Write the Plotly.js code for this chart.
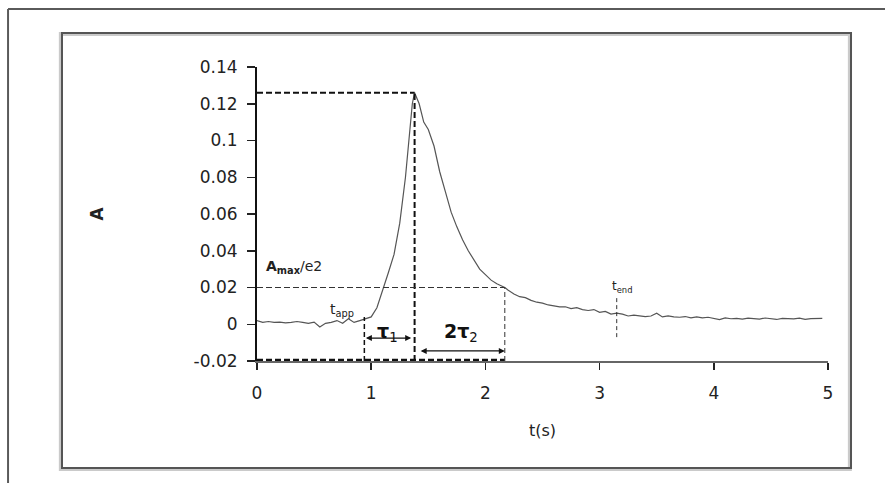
<!DOCTYPE html>
<html>
<head>
<meta charset="utf-8">
<script src="https://cdn.plot.ly/plotly-3.0.1.min.js"></script>
<style>html,body{margin:0;padding:0;background:#fff;}#chart{width:885px;height:483px;}</style>
</head>
<body>
<div id="chart"></div>
<script>
// Time axis (s)
const tValues = [0,0.05,0.1,0.15,0.2,0.25,0.3,0.35,0.4,0.45,0.5,0.55,0.6,0.65,0.7,0.75,0.8,0.85,0.9,0.95,
  1.0,1.05,1.1,1.15,1.2,1.25,1.3,1.33,1.36,1.38,1.42,1.46,1.5,1.55,1.6,1.65,1.7,1.75,1.8,1.85,1.9,1.95,
  2.0,2.05,2.1,2.17,2.2,2.25,2.3,2.35,2.4,2.45,2.5,2.55,2.6,2.65,2.7,2.75,2.8,2.85,2.9,2.95,
  3.0,3.05,3.1,3.15,3.2,3.25,3.3,3.35,3.4,3.45,3.5,3.55,3.6,3.65,3.7,3.75,3.8,3.85,3.9,3.95,
  4.0,4.05,4.1,4.15,4.2,4.25,4.3,4.35,4.4,4.45,4.5,4.55,4.6,4.65,4.7,4.75,4.8,4.85,4.9,4.95];
// Absorbance A
const aValues = [0.002,0.001,0.0015,0.001,0.0012,0.0008,0.001,0.0015,0.001,0.0005,0.0012,-0.0015,0.0005,0.001,0.002,0.0005,0.003,0.001,0.002,0.003,
  0.004,0.009,0.018,0.028,0.038,0.055,0.08,0.102,0.12,0.126,0.12,0.11,0.106,0.097,0.083,0.072,0.061,0.053,0.046,0.04,0.035,0.03,
  0.027,0.024,0.022,0.02,0.0185,0.0165,0.015,0.0145,0.013,0.012,0.0115,0.0105,0.01,0.0095,0.0095,0.0085,0.009,0.008,0.0075,0.008,
  0.0065,0.007,0.0055,0.006,0.0055,0.0045,0.005,0.0048,0.0042,0.0045,0.006,0.004,0.0045,0.004,0.0038,0.0042,0.0035,0.004,0.0035,0.0038,
  0.003,0.0025,0.0035,0.003,0.0032,0.0028,0.0033,0.003,0.0028,0.0034,0.003,0.0026,0.0032,0.003,0.0029,0.0033,0.0027,0.0031,0.003,0.0032];

// Read-off characteristic points
const markerNames = ['tapp', 'tpeak', 't2tau2', 'tend'];
const markerTimes = [0.94, 1.38, 2.17, 3.15];
const thresholdLevel = [0.02]; // Amax/e2 level
const tendRange = [-0.007, 0.015];
const arrowLevels = [-0.0075, -0.0145];

// Tick labels
const yTickVals = [-0.02, 0, 0.02, 0.04, 0.06, 0.08, 0.1, 0.12, 0.14];
const yTickText = ['-0.02', '0', '0.02', '0.04', '0.06', '0.08', '0.1', '0.12', '0.14'];
const xTickVals = [0, 1, 2, 3, 4, 5];
const xTickText = ['0', '1', '2', '3', '4', '5'];

const FONT = 'DejaVu Sans, Arial, sans-serif';
const yMin = -0.02;
const aMax = Math.max(...aValues);
const tApp = markerTimes[0], tPeak = markerTimes[1], t2 = markerTimes[2], tEnd = markerTimes[3];
const lvl = thresholdLevel[0];

const trace = {
  x: tValues, y: aValues, type: 'scatter', mode: 'lines',
  line: {color: '#555', width: 1.2}, hoverinfo: 'skip', showlegend: false
};

function seg(x0, y0, x1, y1, w, dash, color) {
  return {type: 'line', xref: 'x', yref: 'y', x0: x0, y0: y0, x1: x1, y1: y1,
    line: {color: color || '#111', width: w, dash: dash}};
}
function frame(x0, y0, x1, y1, w, color) {
  return {type: 'rect', xref: 'paper', yref: 'paper', x0: x0, y0: y0, x1: x1, y1: y1,
    line: {color: color, width: w}, fillcolor: 'rgba(0,0,0,0)', layer: 'below'};
}
function pline(x0, y0, x1, y1, w, color) {
  return {type: 'line', xref: 'paper', yref: 'paper', x0: x0, y0: y0, x1: x1, y1: y1,
    line: {color: color, width: w}};
}

const shapes = [
  // outer frame (top and left edges)
  pline(-0.436, 1.197, 1.11, 1.197, 2, '#5a5a5a'),
  pline(-0.436, 1.197, -0.436, -0.45, 2, '#5a5a5a'),
  // inner frame with soft shadow
  frame(-0.3435, -0.367, 1.0383, 1.1126, 4, 'rgba(150,150,150,0.5)'),
  frame(-0.3415, -0.364, 1.0403, 1.1156, 2, '#555'),
  // peak lines
  seg(0, aMax, tPeak, aMax, 2, '6px,3px'),
  seg(tPeak, yMin, tPeak, aMax, 2, '6px,3px'),
  // tapp line
  seg(tApp, yMin, tApp, 0.004, 1.5, '5px,3px'),
  // bottom thick dashed segment along the axis
  seg(0, yMin + 0.0006, t2, yMin + 0.0006, 2.5, '6px,3px'),
  // threshold line and its vertical
  seg(0, lvl, t2, lvl, 1, '6px,3px', '#333'),
  seg(t2, yMin, t2, lvl, 1, '5px,3px', '#333'),
  // tend marker
  seg(tEnd, tendRange[0], tEnd, tendRange[1], 1, '4px,3px', '#333')
];

const annotations = [
  {x: tPeak + 0.04, y: 0.1405, xref: 'x', yref: 'y', text: '<b>t<sub>peak</sub></b>', showarrow: false,
    font: {family: FONT, size: 13, color: '#222'}, xanchor: 'center', yanchor: 'middle'},
  {x: 0.06, y: 0.031, xref: 'x', yref: 'y', text: '<b>A<sub>max</sub></b>/e2', showarrow: false,
    font: {family: FONT, size: 14, color: '#222'}, xanchor: 'left', yanchor: 'middle'},
  {x: 0.74, y: 0.0075, xref: 'x', yref: 'y', text: 't<sub>app</sub>', showarrow: false,
    font: {family: FONT, size: 14, color: '#222'}, xanchor: 'center', yanchor: 'middle'},
  {x: 1.14, y: -0.0045, xref: 'x', yref: 'y', text: '<b>τ</b><sub>1</sub>', showarrow: false,
    font: {family: FONT, size: 19, color: '#111'}, xanchor: 'center', yanchor: 'middle'},
  {x: 1.79, y: -0.0045, xref: 'x', yref: 'y', text: '<b>2τ</b><sub>2</sub>', showarrow: false,
    font: {family: FONT, size: 19, color: '#111'}, xanchor: 'center', yanchor: 'middle'},
  {x: tEnd + 0.05, y: 0.0205, xref: 'x', yref: 'y', text: 't<sub>end</sub>', showarrow: false,
    font: {family: FONT, size: 12, color: '#222'}, xanchor: 'center', yanchor: 'middle'},
  // double arrows
  {x: tPeak - 0.03, y: arrowLevels[0], ax: tApp, ay: arrowLevels[0], xref: 'x', yref: 'y', axref: 'x', ayref: 'y',
    text: '', showarrow: true, arrowhead: 2, arrowside: 'end+start', arrowsize: 1, arrowwidth: 1.2, arrowcolor: '#111',
    standoff: 0, startstandoff: 0},
  {x: t2, y: arrowLevels[1], ax: tPeak + 0.04, ay: arrowLevels[1], xref: 'x', yref: 'y', axref: 'x', ayref: 'y',
    text: '', showarrow: true, arrowhead: 2, arrowside: 'end+start', arrowsize: 1, arrowwidth: 1.2, arrowcolor: '#111',
    standoff: 0, startstandoff: 0}
];

const layout = {
  width: 885, height: 483, autosize: false,
  margin: {l: 257, r: 57, t: 67, b: 122, pad: 0},
  paper_bgcolor: '#fff', plot_bgcolor: 'rgba(0,0,0,0)',
  font: {family: FONT, size: 16, color: '#222'},
  showlegend: false,
  xaxis: {
    range: [0, 5], tickvals: xTickVals, ticktext: xTickText,
    showgrid: false, zeroline: false, showline: true, linecolor: '#666', linewidth: 1.5,
    ticks: 'outside', ticklen: 7, tickwidth: 1.5, tickcolor: '#222',
    tickfont: {family: FONT, size: 17, color: '#222'}, ticklabelstandoff: 9,
    title: {text: 't(s)', font: {family: FONT, size: 16, color: '#222'}, standoff: 23},
    fixedrange: true
  },
  yaxis: {
    range: [-0.02, 0.14], tickvals: yTickVals, ticktext: yTickText,
    showgrid: false, zeroline: false, showline: true, linecolor: '#111', linewidth: 2,
    ticks: 'outside', ticklen: 8, tickwidth: 1.5, tickcolor: '#222',
    tickfont: {family: FONT, size: 17, color: '#222'}, ticklabelstandoff: 6,
    title: {text: '<b>A</b>', font: {family: FONT, size: 17, color: '#222'}, standoff: 86},
    fixedrange: true
  },
  shapes: shapes,
  annotations: annotations
};

Plotly.newPlot('chart', [trace], layout, {displayModeBar: false, staticPlot: true});
</script>
</body>
</html>
